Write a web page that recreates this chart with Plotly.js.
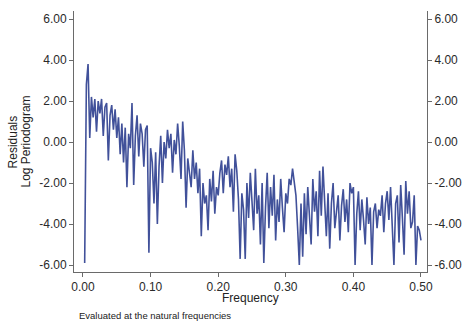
<!DOCTYPE html>
<html><head>
<script src="https://cdn.plot.ly/plotly-3.0.1.min.js"></script>
<style>body{margin:0;background:#fff}#c{width:467px;height:323px}</style>
</head><body><div id="c"></div>
<script>
// Log periodogram of residuals, evaluated at the natural frequencies k/N
const N = 400;
const logPeriodogram = [
 -5.9, 2.8, 3.8, 0.2, 2.2, 1.2, 2.1, 0.5, 2.0, 1.4,
 2.1, 0.3, 1.7, 1.9, -0.9, 1.3, 1.8, 0.6, 1.6, 0.2,
 1.2, -0.6, 0.9, -1.0, 0.7, -2.2, 0.4, -0.3, 1.9, -2.1,
 0.3, 1.3, -0.7, 0.9, 0.4, -1.2, 0.6, 0.8, -5.4, -0.3,
 -1.0, -3.0, -0.5, -4.0, -1.2, 0.3, -2.0, 0.0, -0.8, 0.6,
 -0.3, 0.4, -1.5, 0.1, -0.6, 0.9, -0.2, -1.8, 1.0, -0.4,
 -3.2, -0.8, -1.5, -2.2, -0.4, -1.8, -1.0, -2.5, -1.3, -4.6,
 -2.0, -3.0, -2.6, -4.3, -1.8, -2.9, -1.4, -3.5, -2.2, -2.6,
 -1.5, -0.9, -2.5, -1.1, -1.6, -0.7, -2.2, -1.3, -3.4, -0.6,
 -1.4, -2.8, -5.7, -2.5, -3.3, -5.7, -2.0, -3.7, -1.5, -3.0,
 -4.3, -1.3, -3.5, -2.6, -5.0, -2.0, -5.9, -3.2, -1.5, -4.2,
 -2.2, -3.6, -1.6, -4.8, -2.8, -3.9, -1.8, -3.2, -4.4, -2.5,
 -3.0, -1.8, -2.1, -1.3, -1.9, -2.6, -4.2, -6.0, -3.0, -5.6,
 -2.5, -4.5, -2.2, -3.8, -5.0, -1.8, -3.4, -2.4, -4.6, -1.4,
 -3.6, -1.2, -2.8, -4.6, -2.5, -5.2, -3.0, -2.0, -4.2, -3.4,
 -2.6, -4.8, -3.1, -2.3, -3.9, -2.8, -4.4, -2.0, -2.5, -2.2,
 -6.0, -3.5, -2.4, -4.3, -2.8, -3.8, -5.0, -2.7, -4.0, -3.2,
 -6.0, -3.4, -3.0, -4.2, -3.3, -3.6, -2.6, -4.4, -3.0, -2.4,
 -3.8, -2.2, -4.5, -6.0, -3.0, -2.6, -4.9, -2.1, -3.7, -5.5,
 -1.9, -3.5, -2.4, -4.2, -3.9, -2.6, -6.0, -4.1, -4.3, -4.8
];
const frequency = logPeriodogram.map((_, i) => (i + 1) / N);

const xTickVals = [0, 0.1, 0.2, 0.3, 0.4, 0.5];
const xTickText = ['0.00', '0.10', '0.20', '0.30', '0.40', '0.50'];
const yTickVals = [-6, -4, -2, 0, 2, 4, 6];
const yTickText = ['-6.00', '-4.00', '-2.00', '0.00', '2.00', '4.00', '6.00'];

const tickFont = {family: 'Liberation Sans, Arial, sans-serif', size: 12, color: '#2a2a2a'};
const axisCommon = {
  showline: true, linecolor: '#6a6a6a', linewidth: 1,
  ticks: 'outside', ticklen: 4, tickcolor: '#6a6a6a', tickwidth: 1,
  showgrid: false, zeroline: false, tickfont: tickFont, fixedrange: true
};

const traces = [
  {x: frequency, y: logPeriodogram, type: 'scatter', mode: 'lines',
   line: {color: '#41519a', width: 1.6}, hoverinfo: 'skip', showlegend: false},
  {x: [frequency[0]], y: [logPeriodogram[0]], yaxis: 'y2', type: 'scatter', mode: 'markers',
   marker: {opacity: 0}, hoverinfo: 'skip', showlegend: false}
];

const yRange = [-6.34, 6.39];
const layout = {
  width: 467, height: 323,
  margin: {l: 74, r: 40, t: 11, b: 51, pad: 0},
  paper_bgcolor: '#fff', plot_bgcolor: '#fff',
  xaxis: Object.assign({}, axisCommon, {
    range: [-0.0133, 0.5089], tickvals: xTickVals, ticktext: xTickText
  }),
  yaxis: Object.assign({}, axisCommon, {
    range: yRange, tickvals: yTickVals, ticktext: yTickText
  }),
  yaxis2: Object.assign({}, axisCommon, {
    range: yRange, tickvals: yTickVals, ticktext: yTickText,
    overlaying: 'y', side: 'right'
  }),
  annotations: [
    {text: 'Frequency', xref: 'paper', yref: 'paper', x: 0.5, y: -0.1, xanchor: 'center', yanchor: 'middle',
     showarrow: false, font: {family: 'Liberation Sans, Arial, sans-serif', size: 12, color: '#222'}},
    {text: 'Evaluated at the natural frequencies', xref: 'paper', yref: 'paper', x: 0.008, y: -0.165,
     xanchor: 'left', yanchor: 'middle', showarrow: false,
     font: {family: 'Liberation Sans, Arial, sans-serif', size: 9.5, color: '#222'}},
    {text: 'Residuals', xref: 'paper', yref: 'paper', x: -0.173, y: 0.5, xanchor: 'center', yanchor: 'middle',
     textangle: -90, showarrow: false, font: {family: 'Liberation Sans, Arial, sans-serif', size: 12, color: '#222'}},
    {text: 'Log Periodogram', xref: 'paper', yref: 'paper', x: -0.136, y: 0.5, xanchor: 'center', yanchor: 'middle',
     textangle: -90, showarrow: false, font: {family: 'Liberation Sans, Arial, sans-serif', size: 12, color: '#222'}}
  ]
};
Plotly.newPlot('c', traces, layout, {staticPlot: true, displayModeBar: false});
</script></body></html>
